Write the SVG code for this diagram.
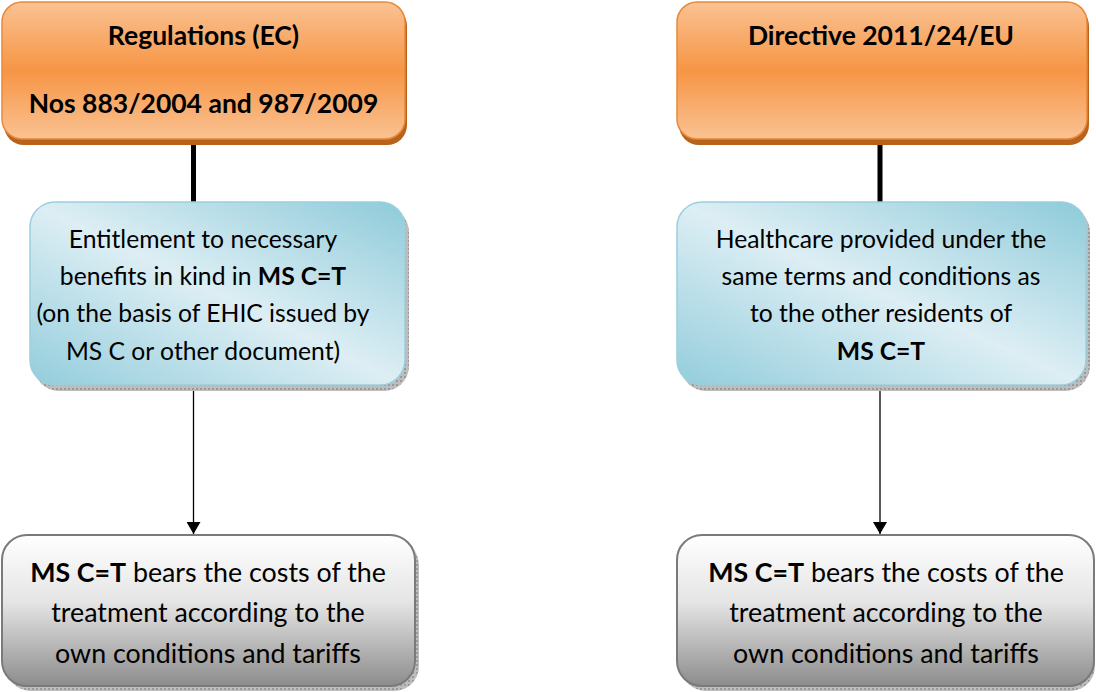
<svg xmlns="http://www.w3.org/2000/svg" width="1096" height="692" viewBox="0 0 1096 692">
  <defs>
    <linearGradient id="gOrange" x1="0" y1="0" x2="0" y2="1">
      <stop offset="0" stop-color="#FAC293"/>
      <stop offset="0.5" stop-color="#F69545"/>
      <stop offset="1" stop-color="#FAC293"/>
    </linearGradient>
    <linearGradient id="gBlue" x1="0" y1="1" x2="1" y2="0">
      <stop offset="0" stop-color="#93CDDC"/>
      <stop offset="0.5" stop-color="#DDEEF4"/>
      <stop offset="1" stop-color="#8ECBDA"/>
    </linearGradient>
    <linearGradient id="gGrey" x1="0" y1="0" x2="0" y2="1">
      <stop offset="0" stop-color="#FFFFFF"/>
      <stop offset="0.45" stop-color="#E4E4E4"/>
      <stop offset="1" stop-color="#8C8C8C"/>
    </linearGradient>
    <pattern id="hatch" width="4" height="4" patternUnits="userSpaceOnUse">
      <rect width="4" height="4" fill="#BDBDBD"/>
      <rect width="2" height="2" fill="#9A9A9A"/>
    </pattern>
    <marker id="arrow" viewBox="0 0 12 14" refX="12" refY="7" markerWidth="12" markerHeight="14" markerUnits="userSpaceOnUse" orient="auto">
      <path d="M0,0 L12,7 L0,14 Z" fill="#000"/>
    </marker>
    <style>
      .orange { fill: url(#gOrange); stroke: #E8893A; stroke-width: 1.5; }
      .orangeShadow { fill: #B9621C; }
      .blue { fill: url(#gBlue); stroke: #9ACFDD; stroke-width: 1.5; }
      .blueShadow { fill: url(#hatch); }
      .grey { fill: url(#gGrey); stroke: #7A7A7A; stroke-width: 2; }
      .greyShadow { fill: url(#hatch); }
      text { font-family: Lato, "Liberation Sans", sans-serif; fill: #000; text-anchor: middle; }
      .title { font-weight: bold; font-size: 26.5px; }
      .body { font-size: 24.7px; }
      .cost { font-size: 26.8px; }
      .b { font-weight: bold; }
      .thick { stroke: #000; stroke-width: 5; fill: none; }
      .thin { stroke: #000; stroke-width: 1.3; fill: none; }
    </style>
  </defs>

  <!-- connectors -->
  <g id="connectors">
    <line class="thick" x1="193.5" y1="140" x2="193.5" y2="203"/>
    <line class="thin" x1="193.5" y1="386" x2="193.5" y2="534" marker-end="url(#arrow)"/>
    <line class="thick" x1="880" y1="140" x2="880" y2="203"/>
    <line class="thin" x1="880" y1="386" x2="880" y2="534" marker-end="url(#arrow)"/>
  </g>

  <!-- left column -->
  <g id="regulations">
    <rect class="orangeShadow" x="4" y="6" width="403" height="139" rx="20"/>
    <rect class="orange" x="2" y="2" width="403" height="137" rx="20"/>
    <text class="title" x="203.5" y="45">Regulations (EC)</text>
    <text class="title" x="203.5" y="113">Nos 883/2004 and 987/2009</text>
  </g>

  <g id="entitlement">
    <rect class="blueShadow" x="34" y="207" width="375" height="184" rx="25"/>
    <rect class="blue" x="30" y="202" width="375" height="183" rx="25"/>
    <text class="body" x="203" y="248">Entitlement to necessary</text>
    <text class="body" x="203" y="285">benefits in kind in <tspan class="b">MS C=T</tspan></text>
    <text class="body" x="203" y="322">(on the basis of EHIC issued by</text>
    <text class="body" x="203" y="360">MS C or other document)</text>
  </g>

  <g id="costs-left">
    <rect class="greyShadow" x="6" y="540" width="413" height="151" rx="25"/>
    <rect class="grey" x="2" y="535" width="413" height="151" rx="25"/>
    <text class="cost" x="208" y="582"><tspan class="b">MS C=T</tspan> bears the costs of the</text>
    <text class="cost" x="208" y="622">treatment according to the</text>
    <text class="cost" x="208" y="663">own conditions and tariffs</text>
  </g>

  <!-- right column -->
  <g id="directive">
    <rect class="orangeShadow" x="679" y="6" width="410" height="139" rx="20"/>
    <rect class="orange" x="677" y="2" width="410" height="137" rx="20"/>
    <text class="title" x="881" y="45">Directive 2011/24/EU</text>
  </g>

  <g id="healthcare">
    <rect class="blueShadow" x="681" y="207" width="409" height="184" rx="25"/>
    <rect class="blue" x="677" y="202" width="409" height="183" rx="25"/>
    <text class="body" x="881" y="248">Healthcare provided under the</text>
    <text class="body" x="881" y="285">same terms and conditions as</text>
    <text class="body" x="881" y="322">to the other residents of</text>
    <text class="body b" x="881" y="360">MS C=T</text>
  </g>

  <g id="costs-right">
    <rect class="greyShadow" x="681" y="540" width="414" height="151" rx="25"/>
    <rect class="grey" x="677" y="535" width="417" height="151" rx="25"/>
    <text class="cost" x="886" y="582"><tspan class="b">MS C=T</tspan> bears the costs of the</text>
    <text class="cost" x="886" y="622">treatment according to the</text>
    <text class="cost" x="886" y="663">own conditions and tariffs</text>
  </g>
</svg>
